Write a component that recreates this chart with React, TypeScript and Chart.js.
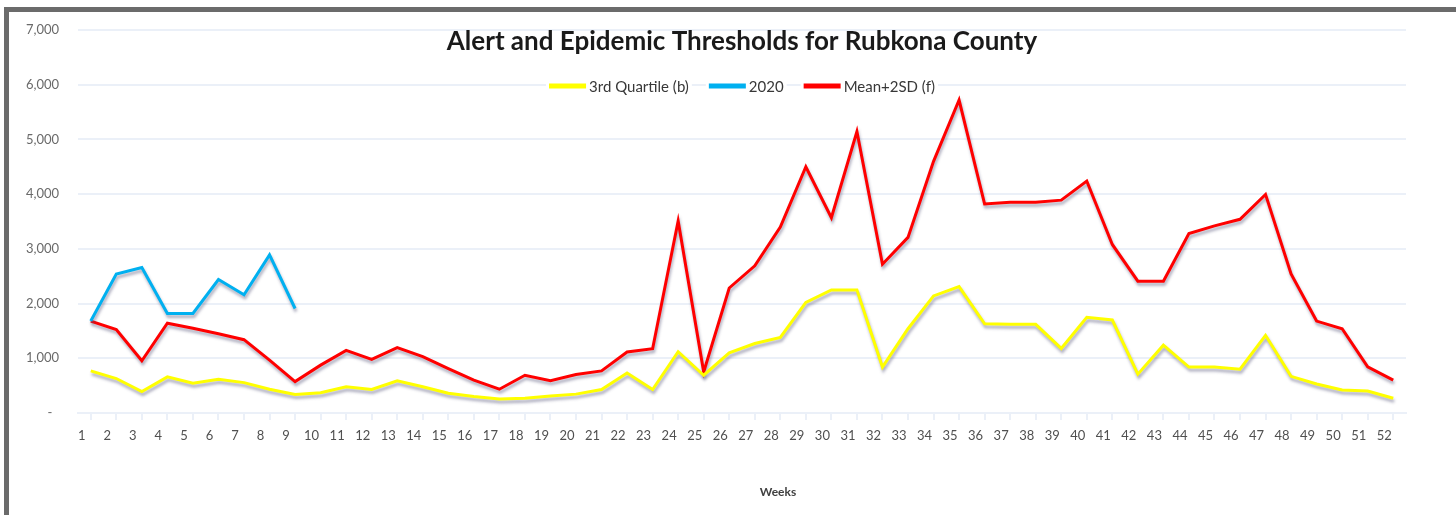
import { useEffect, useRef } from 'react';
import { Chart, registerables } from 'chart.js';

Chart.register(...registerables);

const chartTitle = 'Alert and Epidemic Thresholds for Rubkona County';
const xAxisTitle = 'Weeks';

const weeks = [
  '1', '2', '3', '4', '5', '6', '7', '8', '9', '10',
  '11', '12', '13', '14', '15', '16', '17', '18', '19', '20',
  '21', '22', '23', '24', '25', '26', '27', '28', '29', '30',
  '31', '32', '33', '34', '35', '36', '37', '38', '39', '40',
  '41', '42', '43', '44', '45', '46', '47', '48', '49', '50',
  '51', '52',
];

const quartile3 = [
  770, 630, 390, 660, 545, 615, 555, 435, 340, 370,
  480, 430, 590, 480, 360, 300, 255, 270, 310, 345,
  430, 730, 430, 1120, 690, 1100, 1270, 1380, 2020, 2250,
  2250, 840, 1540, 2140, 2310, 1630, 1620, 1620, 1180, 1750,
  1700, 710, 1240, 840, 840, 800, 1420, 670, 530, 420,
  400, 270,
];

const cases2020 = [1680, 2540, 2660, 1820, 1820, 2440, 2160, 2890, 1910];

const mean2sd = [
  1680, 1525, 955, 1640, 1550, 1450, 1340, 965, 575, 875,
  1145, 980, 1195, 1030, 810, 600, 435, 690, 590, 705,
  770, 1115, 1175, 3510, 750, 2285, 2690, 3400, 4500, 3570,
  5145, 2720, 3210, 4600, 5720, 3820, 3850, 3850, 3890, 4240,
  3080, 2410, 2410, 3280, 3420, 3540, 3995, 2540, 1680, 1540,
  845, 600,
];

const seriesLabels = ['3rd Quartile (b)', '2020', 'Mean+2SD (f)'];
const seriesColors = ['#FFFF00', '#00B0F0', '#FF0000'];

const yTickLabels = ['-', '1,000', '2,000', '3,000', '4,000', '5,000', '6,000', '7,000'];

const FONT = 'Lato';

const shadowPlugin = {
  id: 'lineShadow',
  beforeDatasetDraw(chart: any) {
    const c = chart.ctx;
    c.save();
    c.shadowColor = 'rgba(70,70,110,0.45)';
    c.shadowBlur = 3;
    c.shadowOffsetX = 1;
    c.shadowOffsetY = 3;
  },
  afterDatasetDraw(chart: any) {
    chart.ctx.restore();
  },
};

const overlayPlugin = {
  id: 'overlayLegend',
  beforeDatasetsDraw(chart: any) {
    const ctx = chart.ctx;
    const area = chart.chartArea;
    ctx.save();
    ctx.font = `15px ${FONT}`;
    const boxW = 37;
    const boxH = 5;
    const gapBoxText = 3;
    const gapItems = 20;
    const items = chart.data.datasets.map((ds: any) => ({ text: ds.label, color: ds.borderColor }));
    const widths = items.map((it: any) => boxW + gapBoxText + ctx.measureText(it.text).width);
    const total = widths.reduce((a: number, b: number) => a + b, 0) + gapItems * (items.length - 1);
    let x = (area.left + area.right) / 2 - total / 2;
    const y = area.top + 56;
    ctx.textBaseline = 'middle';
    ctx.textAlign = 'left';
    items.forEach((it: any, i: number) => {
      ctx.fillStyle = '#ffffff';
      ctx.fillRect(x - 3, y - 9, widths[i] + 6, 18);
      ctx.fillStyle = it.color;
      ctx.fillRect(x, y - boxH / 2, boxW, boxH);
      ctx.fillStyle = '#383838';
      ctx.fillText(it.text, x + boxW + gapBoxText, y + 1);
      x += widths[i] + gapItems;
    });
    ctx.font = `bold 12px ${FONT}`;
    ctx.textAlign = 'center';
    ctx.fillStyle = '#404040';
    ctx.fillText(xAxisTitle, (area.left + area.right) / 2 + 36, area.bottom + 79);
    ctx.restore();
  },
};

export default function App() {
  const canvasRef = useRef<HTMLCanvasElement | null>(null);

  useEffect(() => {
    document.body.style.margin = '0';
    const canvas = canvasRef.current;
    if (!canvas) return;
    const gridColor = '#EBF0F8';
    const chart = new Chart(canvas, {
      type: 'line',
      data: {
        labels: weeks,
        datasets: [
          { label: seriesLabels[0], data: quartile3, borderColor: seriesColors[0], backgroundColor: seriesColors[0] },
          { label: seriesLabels[1], data: cases2020, borderColor: seriesColors[1], backgroundColor: seriesColors[1] },
          { label: seriesLabels[2], data: mean2sd, borderColor: seriesColors[2], backgroundColor: seriesColors[2] },
        ].map((d) => ({ ...d, borderWidth: 3, pointRadius: 0, pointHoverRadius: 0, tension: 0, fill: false })),
      },
      options: {
        animation: false,
        responsive: true,
        maintainAspectRatio: false,
        layout: { padding: { top: 30, left: 0, right: 50, bottom: 0 } },
        plugins: {
          legend: { display: false },
          tooltip: { enabled: false },
          title: {
            display: true,
            text: chartTitle,
            fullSize: false,
            color: '#1a1a1a',
            font: { family: FONT, size: 26, weight: 'bold', lineHeight: 1.2 },
            padding: { top: -3.6, bottom: -27.6 },
          },
        },
        scales: {
          x: {
            offset: true,
            grid: { display: true, drawOnChartArea: false, drawTicks: true, tickLength: 7, color: gridColor, lineWidth: 2 },
            border: { display: true, color: gridColor, width: 2 },
            ticks: {
              autoSkip: false,
              maxRotation: 0,
              minRotation: 0,
              labelOffset: -9,
              padding: 8,
              color: '#505050',
              font: { family: FONT, size: 13 },
            },
            afterFit: (scale: any) => { scale.height = 102; },
          },
          y: {
            min: 0,
            max: 7000,
            grid: { color: gridColor, lineWidth: 2, drawTicks: false },
            border: { display: false },
            ticks: {
              stepSize: 1000,
              padding: 19,
              color: '#6a6a6a',
              font: { family: FONT, size: 13 },
              callback: (_v: any, i: number) => (i === 0 ? yTickLabels[0] + '  ' : yTickLabels[i]),
            },
            afterFit: (scale: any) => { scale.width = 78; },
          },
        },
      },
      plugins: [shadowPlugin, overlayPlugin],
    });
    return () => chart.destroy();
  }, []);

  return (
    <div style={{ position: 'absolute', left: 0, top: 0, width: 1456, height: 515, background: '#ffffff', overflow: 'hidden' }}>
      <canvas ref={canvasRef} />
      <div
        style={{
          position: 'absolute',
          left: 4,
          top: 7,
          right: 0,
          bottom: 0,
          borderTop: '5px solid #6b6b6b',
          borderLeft: '5px solid #6b6b6b',
          pointerEvents: 'none',
        }}
      />
    </div>
  );
}
